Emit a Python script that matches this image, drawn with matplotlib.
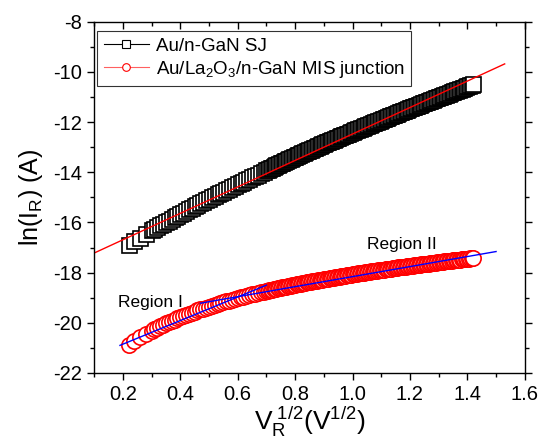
import numpy as np
import matplotlib.pyplot as plt
from matplotlib.lines import Line2D
from matplotlib.ticker import MultipleLocator

plt.rcParams["font.family"] = ["Liberation Sans", "DejaVu Sans"]
plt.rcParams["mathtext.fontset"] = "custom"
plt.rcParams["mathtext.rm"] = "Liberation Sans"
plt.rcParams["mathtext.it"] = "Liberation Sans:italic"
plt.rcParams["axes.unicode_minus"] = False

# --- data (V_R^1/2, ln(I_R)) ---
vr_sqrt = [
    0.22, 0.24, 0.26, 0.28, 0.30,
    0.31, 0.32, 0.33, 0.34, 0.35, 0.36, 0.37, 0.38, 0.39, 0.40,
    0.41, 0.42, 0.43, 0.44, 0.45, 0.46, 0.47, 0.48, 0.49, 0.50,
    0.51, 0.52, 0.53, 0.54, 0.55, 0.56, 0.57, 0.58, 0.59, 0.60,
    0.61, 0.62, 0.63, 0.64, 0.65, 0.66, 0.67, 0.68, 0.69, 0.70,
    0.705, 0.71, 0.715, 0.72, 0.725, 0.73, 0.735, 0.74, 0.745, 0.75,
    0.755, 0.76, 0.765, 0.77, 0.775, 0.78, 0.785, 0.79, 0.795, 0.80,
    0.805, 0.81, 0.815, 0.82, 0.825, 0.83, 0.835, 0.84, 0.845, 0.85,
    0.855, 0.86, 0.865, 0.87, 0.875, 0.88, 0.885, 0.89, 0.895, 0.90,
    0.905, 0.91, 0.915, 0.92, 0.925, 0.93, 0.935, 0.94, 0.945, 0.95,
    0.955, 0.96, 0.965, 0.97, 0.975, 0.98, 0.985, 0.99, 0.995, 1.00,
    1.005, 1.01, 1.015, 1.02, 1.025, 1.03, 1.035, 1.04, 1.045, 1.05,
    1.055, 1.06, 1.065, 1.07, 1.075, 1.08, 1.085, 1.09, 1.095, 1.10,
    1.105, 1.11, 1.115, 1.12, 1.125, 1.13, 1.135, 1.14, 1.145, 1.15,
    1.155, 1.16, 1.165, 1.17, 1.175, 1.18, 1.185, 1.19, 1.195, 1.20,
    1.205, 1.21, 1.215, 1.22, 1.225, 1.23, 1.235, 1.24, 1.245, 1.25,
    1.255, 1.26, 1.265, 1.27, 1.275, 1.28, 1.285, 1.29, 1.295, 1.30,
    1.305, 1.31, 1.315, 1.32, 1.325, 1.33, 1.335, 1.34, 1.345, 1.35,
    1.355, 1.36, 1.365, 1.37, 1.375, 1.38, 1.385, 1.39, 1.395, 1.40,
    1.405, 1.41, 1.415, 1.42,
]

# Au/n-GaN SJ
ln_ir_sj = [
    -16.89, -16.75, -16.61, -16.46, -16.32,
    -16.25, -16.19, -16.12, -16.06, -15.99, -15.93, -15.86, -15.80, -15.73, -15.67,
    -15.61, -15.55, -15.48, -15.42, -15.36, -15.30, -15.24, -15.17, -15.11, -15.05,
    -14.99, -14.94, -14.88, -14.82, -14.77, -14.71, -14.65, -14.59, -14.54, -14.48,
    -14.42, -14.37, -14.31, -14.26, -14.20, -14.14, -14.09, -14.03, -13.98, -13.92,
    -13.90, -13.87, -13.84, -13.81, -13.79, -13.76, -13.73, -13.70, -13.68, -13.65,
    -13.63, -13.60, -13.57, -13.54, -13.52, -13.49, -13.46, -13.43, -13.41, -13.38,
    -13.36, -13.33, -13.31, -13.28, -13.25, -13.22, -13.20, -13.17, -13.15, -13.12,
    -13.10, -13.07, -13.05, -13.02, -12.99, -12.96, -12.94, -12.91, -12.89, -12.86,
    -12.84, -12.81, -12.79, -12.76, -12.74, -12.72, -12.70, -12.67, -12.65, -12.62,
    -12.60, -12.57, -12.55, -12.52, -12.50, -12.48, -12.46, -12.43, -12.41, -12.38,
    -12.36, -12.33, -12.31, -12.29, -12.27, -12.24, -12.22, -12.19, -12.17, -12.15,
    -12.13, -12.10, -12.08, -12.05, -12.03, -12.00, -11.98, -11.96, -11.94, -11.91,
    -11.89, -11.86, -11.84, -11.82, -11.80, -11.77, -11.75, -11.73, -11.71, -11.68,
    -11.66, -11.63, -11.61, -11.59, -11.57, -11.54, -11.52, -11.50, -11.48, -11.45,
    -11.43, -11.41, -11.39, -11.36, -11.34, -11.32, -11.30, -11.27, -11.25, -11.23,
    -11.21, -11.19, -11.17, -11.14, -11.12, -11.10, -11.08, -11.05, -11.03, -11.01,
    -10.99, -10.97, -10.95, -10.92, -10.90, -10.88, -10.86, -10.84, -10.82, -10.80,
    -10.78, -10.75, -10.73, -10.71, -10.69, -10.67, -10.65, -10.63, -10.61, -10.58,
    -10.56, -10.54, -10.52, -10.50,
]

# Au/La2O3/n-GaN MIS junction
ln_ir_mis = [
    -20.89, -20.72, -20.58, -20.44, -20.31,
    -20.25, -20.19, -20.13, -20.08, -20.02, -19.97, -19.92, -19.87, -19.82, -19.77,
    -19.73, -19.68, -19.64, -19.60, -19.56, -19.51, -19.47, -19.44, -19.40, -19.36,
    -19.32, -19.29, -19.25, -19.22, -19.18, -19.15, -19.12, -19.08, -19.05, -19.02,
    -18.99, -18.96, -18.93, -18.90, -18.87, -18.84, -18.82, -18.79, -18.76, -18.73,
    -18.72, -18.71, -18.69, -18.68, -18.67, -18.66, -18.64, -18.63, -18.62, -18.61,
    -18.59, -18.58, -18.57, -18.56, -18.54, -18.53, -18.52, -18.51, -18.50, -18.49,
    -18.47, -18.46, -18.45, -18.44, -18.43, -18.42, -18.40, -18.39, -18.38, -18.37,
    -18.36, -18.35, -18.34, -18.33, -18.32, -18.31, -18.30, -18.29, -18.28, -18.27,
    -18.26, -18.25, -18.24, -18.23, -18.22, -18.20, -18.20, -18.19, -18.18, -18.17,
    -18.16, -18.15, -18.14, -18.13, -18.12, -18.11, -18.10, -18.09, -18.08, -18.07,
    -18.06, -18.05, -18.04, -18.03, -18.03, -18.02, -18.01, -18.00, -17.99, -17.98,
    -17.97, -17.96, -17.95, -17.94, -17.94, -17.93, -17.92, -17.91, -17.90, -17.89,
    -17.89, -17.88, -17.87, -17.86, -17.85, -17.84, -17.84, -17.83, -17.82, -17.81,
    -17.80, -17.79, -17.79, -17.78, -17.77, -17.76, -17.76, -17.75, -17.74, -17.73,
    -17.73, -17.72, -17.71, -17.70, -17.70, -17.69, -17.68, -17.67, -17.67, -17.66,
    -17.65, -17.64, -17.64, -17.63, -17.62, -17.61, -17.61, -17.60, -17.59, -17.58,
    -17.58, -17.57, -17.56, -17.55, -17.55, -17.54, -17.54, -17.53, -17.52, -17.51,
    -17.51, -17.50, -17.49, -17.48, -17.48, -17.47, -17.47, -17.46, -17.45, -17.44,
    -17.44, -17.43, -17.43, -17.42,
]

# linear fits (end points)
fit_sj_x = [0.10, 1.53]
fit_sj_y = [-17.22, -9.68]
fit_r1_x = [0.19, 0.70]
fit_r1_y = [-20.90, -18.50]
fit_r2_x = [0.47, 1.50]
fit_r2_y = [-19.22, -17.16]

# --- plot ---
fig = plt.figure(figsize=(5.41, 4.44), dpi=100)
ax = fig.add_axes([0.174, 0.160, 0.796, 0.791])

ax.plot(vr_sqrt, ln_ir_sj, ls="none", marker="s", ms=10.8, mfc="white",
        mec="black", mew=1.2)
ax.plot(fit_sj_x, fit_sj_y, color="red", lw=1.0)
ax.plot(vr_sqrt, ln_ir_mis, ls="none", marker="o", ms=11, mfc="white",
        mec="red", mew=1.2)
ax.plot(fit_r1_x, fit_r1_y, color="blue", lw=1.0)
ax.plot(fit_r2_x, fit_r2_y, color="blue", lw=1.0)

ax.text(0.183, -19.21, "Region I", fontsize=12.5, va="center", ha="left")
ax.text(1.05, -16.89, "Region II", fontsize=12.5, va="center", ha="left")

ax.set_xlim(0.1, 1.6)
ax.set_ylim(-22, -8)
ax.xaxis.set_major_locator(MultipleLocator(0.2))
ax.xaxis.set_minor_locator(MultipleLocator(0.1))
ax.yaxis.set_major_locator(MultipleLocator(2))
ax.yaxis.set_minor_locator(MultipleLocator(1))
ax.set_xticks([0.2, 0.4, 0.6, 0.8, 1.0, 1.2, 1.4, 1.6])

ax.tick_params(which="both", direction="out", labelsize=14.5, width=1.0)
ax.tick_params(which="major", length=5)
ax.tick_params(which="minor", length=3)
ax.tick_params(which="both", top=True, right=True)
# top and right ticks point into the box
for t in ax.xaxis.get_ticklines(minor=False)[1::2] + ax.xaxis.get_ticklines(minor=True)[1::2]:
    t.set_marker(3)
for t in ax.yaxis.get_ticklines(minor=False)[1::2] + ax.yaxis.get_ticklines(minor=True)[1::2]:
    t.set_marker(1)
for s in ax.spines.values():
    s.set_linewidth(1.0)

ax.set_xlabel(r"$\mathregular{V_R^{\ 1/2}(V^{1/2})}$", fontsize=19, labelpad=1)
ax.set_ylabel(r"$\mathregular{ln(I_R)\ (A)}$", fontsize=18, labelpad=6)

handles = [
    Line2D([], [], color="black", lw=0.8, marker="s", ms=5.5, mfc="white", mec="black", mew=0.8),
    Line2D([], [], color="#ff6060", lw=0.8, marker="o", ms=5.5, mfc="white", mec="red", mew=0.8),
]
labels = ["Au/n-GaN SJ", r"Au/La$\mathregular{_2}$O$\mathregular{_3}$/n-GaN MIS junction"]
leg = ax.legend(handles, labels, loc="upper left", bbox_to_anchor=(0.007, 0.973),
                fontsize=13.5, frameon=True, fancybox=False, edgecolor="black",
                handlelength=2.4, handletextpad=0.37, borderpad=0.35, labelspacing=0.2,
                borderaxespad=0.0)
leg.get_frame().set_linewidth(0.8)

fig.savefig("out.png", dpi=100)
